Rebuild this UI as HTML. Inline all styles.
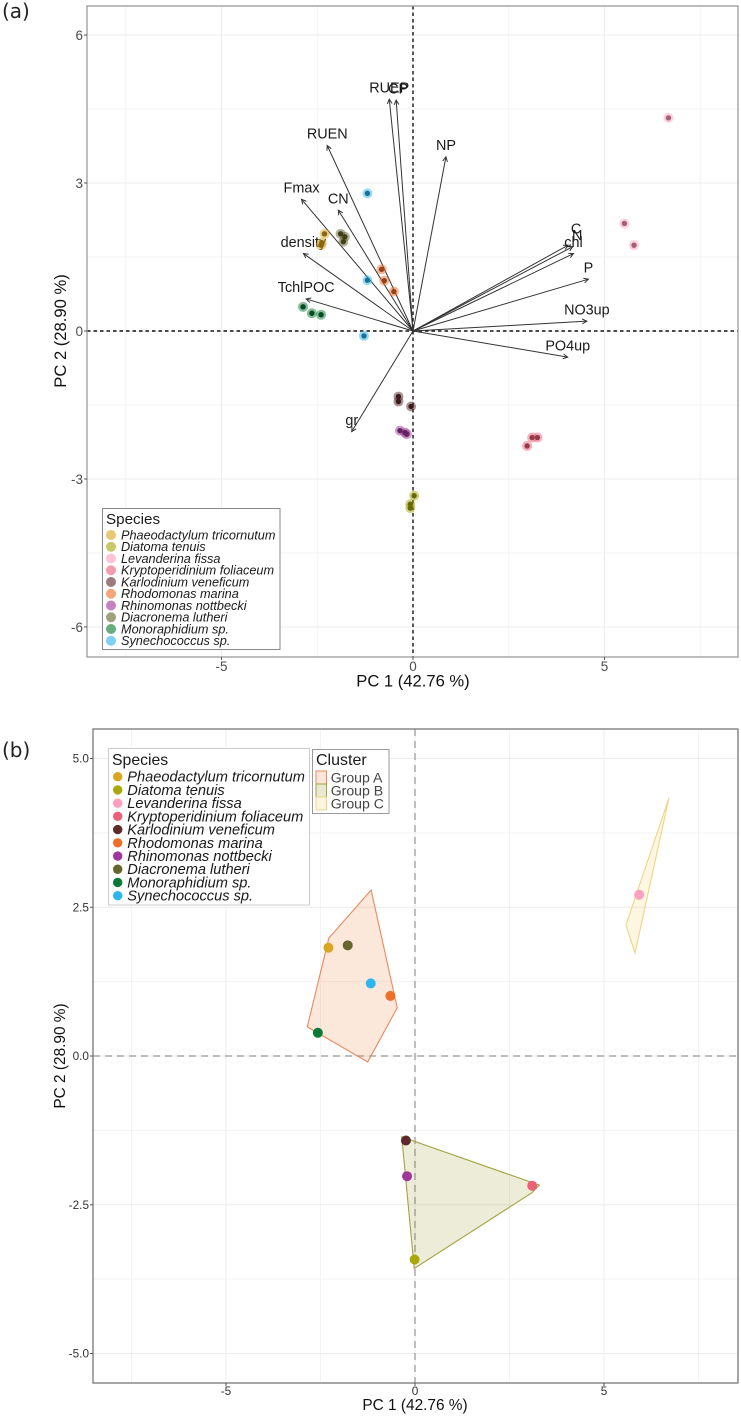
<!DOCTYPE html>
<html lang="en">
<head>
<meta charset="utf-8">
<title>PCA biplot of phytoplankton species</title>
<style>
html,body{margin:0;padding:0;background:#fff;}
body{width:741px;height:1416px;overflow:hidden;}
svg{display:block;font-family:"Liberation Sans",sans-serif;filter:blur(0.35px);}
</style>
</head>
<body>
<svg id="figure" xmlns="http://www.w3.org/2000/svg" width="741" height="1416" viewBox="0 0 741 1416">
  <text x="2" y="18" font-family="'DejaVu Sans',sans-serif" font-size="20" fill="#222">(a)</text>
  <text x="2" y="757" font-family="'DejaVu Sans',sans-serif" font-size="20" fill="#222">(b)</text>
  <g id="panelA"></g>
  <g id="panelB"></g>
</svg>
<script>
// ---------- shared categories ----------
const speciesNames = ["Phaeodactylum tricornutum","Diatoma tenuis","Levanderina fissa","Kryptoperidinium foliaceum","Karlodinium veneficum","Rhodomonas marina","Rhinomonas nottbecki","Diacronema lutheri","Monoraphidium sp.","Synechococcus sp."];
const speciesColors = ["#DAA520","#A8A80C","#FF9FBF","#EE6077","#5E2A2A","#EE7028","#A0359A","#66662E","#0B7A36","#2FB5EE"];

// ---------- panel (a) data: replicates per species, same order as speciesNames ----------
const scoresAX = [[-2.31,-2.38,-2.40],[0.03,-0.07,-0.07],[6.67,5.52,5.77],[3.11,3.25,2.98],[-0.38,-0.38,-0.05],[-0.82,-0.75,-0.50],[-0.34,-0.21,-0.16],[-1.89,-1.78,-1.82],[-2.87,-2.64,-2.40],[-1.19,-1.19,-1.28]];
const scoresAY = [[1.97,1.79,1.74],[-3.34,-3.51,-3.59],[4.32,2.18,1.74],[-2.16,-2.16,-2.33],[-1.33,-1.43,-1.53],[1.25,1.02,0.80],[-2.02,-2.06,-2.09],[1.97,1.91,1.81],[0.49,0.36,0.33],[2.79,1.03,-0.10]];
const loadingNames = ["RUEP","CP","RUEN","Fmax","CN","density","TchlPOC","NP","C","N","chl","P","NO3up","PO4up","gr"];
const loadingX = [-0.62,-0.44,-2.24,-2.91,-1.95,-2.86,-2.79,0.86,4.05,4.17,4.19,4.58,4.54,4.04,-1.60];
const loadingY = [4.70,4.68,3.76,2.67,2.45,1.57,0.65,3.53,1.74,1.71,1.57,1.05,0.20,-0.53,-2.04];
const xTicksA = [-5,0,5];
const xMinorA = [-7.5,-2.5,2.5,7.5];
const yTicksA = [-6,-3,0,3,6];
const yMinorA = [-4.5,-1.5,1.5,4.5];

// ---------- panel (b) data ----------
const centroidX = [-2.29,-0.01,5.93,3.10,-0.24,-0.65,-0.21,-1.78,-2.57,-1.17];
const centroidY = [1.82,-3.42,2.71,-2.18,-1.42,1.01,-2.02,1.86,0.39,1.22];
const clusterNames = ["Group A","Group B","Group C"];
const clusterFill = ["#F08040","#8F8F20","#F5D060"];
const clusterStroke = ["#E88A5C","#A3A340","#EFD488"];
const hullAX = [-1.16,-2.28,-2.85,-1.25,-0.47];
const hullAY = [2.79,1.98,0.49,-0.10,0.81];
const hullBX = [-0.35,3.29,3.09,-0.02];
const hullBY = [-1.36,-2.17,-2.30,-3.57];
const hullCX = [6.72,5.58,5.82];
const hullCY = [4.34,2.20,1.73];
const xTicksB = [-5,0,5];
const xMinorB = [-7.5,-2.5,2.5,7.5];
const yTicksB = [-5,-2.5,0,2.5,5];
const yMinorB = [-3.75,-1.25,1.25,3.75];
const yTickLabelsB = ["-5.0","-2.5","0.0","2.5","5.0"];

// ---------- axis functions ----------
const xA = v => 413 + 38.3 * v;
const yA = v => 331 - 49.33 * v;
const xB = v => 415 + 37.8 * v;
const yB = v => 1056 - 59.5 * v;

const NS = "http://www.w3.org/2000/svg";
function add(parent, tag, attrs, text) {
  const el = document.createElementNS(NS, tag);
  for (const k in attrs) el.setAttribute(k, attrs[k]);
  if (text !== undefined) el.textContent = text;
  parent.appendChild(el);
  return el;
}
function darken(hex, f) {
  const n = parseInt(hex.slice(1), 16);
  const c = [(n >> 16) & 255, (n >> 8) & 255, n & 255].map(v => Math.round(v * f));
  return "rgb(" + c.join(",") + ")";
}

const panelA = document.getElementById("panelA");
const panelB = document.getElementById("panelB");

function drawFrame(g, box, sx, sy, xMajor, xMinor, yMajor, yMinor, major, minor) {
  xMinor.forEach(v => {
    const el = add(g, "line", {x1: sx(v), x2: sx(v), y1: box.t, y2: box.b, stroke: minor, "stroke-width": 1});
    
    
  });
  yMinor.forEach(v => {
    const el = add(g, "line", {x1: box.l, x2: box.r, y1: sy(v), y2: sy(v), stroke: minor, "stroke-width": 1});
    
    
  });
  xMajor.forEach(v => {
    const el = add(g, "line", {x1: sx(v), x2: sx(v), y1: box.t, y2: box.b, stroke: major, "stroke-width": 1});
    
    
  });
  yMajor.forEach(v => {
    const el = add(g, "line", {x1: box.l, x2: box.r, y1: sy(v), y2: sy(v), stroke: major, "stroke-width": 1});
    
    
  });
}
function drawBorderAndTicks(g, box, sx, sy, xMajor, yMajor, xLabels, yLabels, fs, color, xLabelY, yLabelX, borderColor) {
  const border = add(g, "rect", {x: box.l, y: box.t, width: box.r - box.l, height: box.b - box.t, fill: "none", stroke: borderColor, "stroke-width": 1.3});
  
  
  xMajor.forEach((v, i) => {
    const t = add(g, "line", {x1: sx(v), x2: sx(v), y1: box.b, y2: box.b + 3, stroke: "#555", "stroke-width": 1});
    
    
    const l = add(g, "text", {x: sx(v), y: xLabelY, "text-anchor": "middle", "font-size": fs, fill: color}, xLabels[i]);
    
    
  });
  yMajor.forEach((v, i) => {
    const t = add(g, "line", {x1: box.l - 3, x2: box.l, y1: sy(v), y2: sy(v), stroke: "#555", "stroke-width": 1});
    
    
    const l = add(g, "text", {x: yLabelX, y: sy(v) + fs * 0.36, "text-anchor": "end", "font-size": fs, fill: color}, yLabels[i]);
    
    
  });
}

// ========== PANEL A ==========
const boxA = {l: 87, r: 738, t: 6, b: 657};
drawFrame(panelA, boxA, xA, yA, xTicksA, xMinorA, yTicksA, yMinorA, "#ececec", "#f3f3f3");

const zeroHA = add(panelA, "line", {x1: boxA.l, x2: boxA.r, y1: yA(0), y2: yA(0), stroke: "#111", "stroke-width": 1.4, "stroke-dasharray": "3.5 3"});


const zeroVA = add(panelA, "line", {x1: xA(0), x2: xA(0), y1: boxA.t, y2: boxA.b, stroke: "#111", "stroke-width": 1.4, "stroke-dasharray": "3.5 3"});



loadingNames.forEach((name, i) => {
  const x0 = xA(0), y0 = yA(0), x1 = xA(loadingX[i]), y1 = yA(loadingY[i]);
  const a = Math.atan2(y1 - y0, x1 - x0), h = 5.2, w = 0.48;
  const shaft = add(panelA, "line", {x1: x0, y1: y0, x2: x1, y2: y1, stroke: "#333", "stroke-width": 1});
  
  
  const d = "M" + (x1 - h * Math.cos(a - w)) + " " + (y1 - h * Math.sin(a - w)) + "L" + x1 + " " + y1 + "L" + (x1 - h * Math.cos(a + w)) + " " + (y1 - h * Math.sin(a + w));
  const head = add(panelA, "path", {d: d, fill: "none", stroke: "#333", "stroke-width": 1});
  
  
});
loadingNames.forEach((name, i) => {
  let nudgeX = 0, nudgeY = 0;
  if (name === "C") { nudgeX = 8; nudgeY = -5; }
  if (name === "N") { nudgeX = 4.5; }
  if (name === "CP") { nudgeX = 2; }
  const lab = add(panelA, "text", {x: xA(loadingX[i]) + nudgeX, y: yA(loadingY[i]) - 12 + nudgeY + 5.2, "text-anchor": "middle", "font-size": 14.4, fill: "#1a1a1a"}, name);
  
  
});

scoresAX.forEach((xs, s) => {
  xs.forEach((xv, r) => {
    const halo = add(panelA, "circle", {cx: xA(xv), cy: yA(scoresAY[s][r]), r: 5, fill: speciesColors[s], "fill-opacity": 0.5});
    
    
  });
});
scoresAX.forEach((xs, s) => {
  xs.forEach((xv, r) => {
    const dot = add(panelA, "circle", {cx: xA(xv), cy: yA(scoresAY[s][r]), r: 2.7, fill: darken(speciesColors[s], 0.62)});
    
    
  });
});

drawBorderAndTicks(panelA, boxA, xA, yA, xTicksA, yTicksA, xTicksA.map(String), yTicksA.map(String), 13.5, "#4d4d4d", 671, 83, "#9a9a9a");

const xTitleA = add(panelA, "text", {x: 413, y: 686.5, "text-anchor": "middle", "font-size": 16.6, fill: "#111"}, "PC 1 (42.76 %)");


const yTitleA = add(panelA, "text", {x: 0, y: 0, transform: "translate(66 331) rotate(-90)", "text-anchor": "middle", "font-size": 16.6, fill: "#111"}, "PC 2 (28.90 %)");



const legendA = add(panelA, "g", {});


const legendBoxA = add(legendA, "rect", {x: 102.5, y: 508.5, width: 177.5, height: 141, fill: "#fff", stroke: "#888", "stroke-width": 1});


const legendTitleA = add(legendA, "text", {x: 106, y: 524, "font-size": 15.2, fill: "#1a1a1a"}, "Species");


speciesNames.forEach((name, i) => {
  const cy = 535 + i * 11.75;
  const key = add(legendA, "circle", {cx: 111, cy: cy, r: 5, fill: speciesColors[i], "fill-opacity": 0.62});
  
  
  const txt = add(legendA, "text", {x: 121, y: cy + 4.4, "font-size": 12.7, "font-style": "italic", fill: "#1a1a1a"}, name);
  
  
});

// ========== PANEL B ==========
const boxB = {l: 93, r: 738, t: 729, b: 1383};
drawFrame(panelB, boxB, xB, yB, xTicksB, xMinorB, yTicksB, yMinorB, "#ececec", "#f3f3f3");

const zeroHB = add(panelB, "line", {x1: boxB.l, x2: boxB.r, y1: yB(0), y2: yB(0), stroke: "#a8a8a8", "stroke-width": 1.5, "stroke-dasharray": "7 5"});


const zeroVB = add(panelB, "line", {x1: xB(0), x2: xB(0), y1: boxB.t, y2: boxB.b, stroke: "#a8a8a8", "stroke-width": 1.5, "stroke-dasharray": "7 5"});



[[hullAX, hullAY], [hullBX, hullBY], [hullCX, hullCY]].forEach((h, c) => {
  const pts = h[0].map((v, i) => xB(v) + "," + yB(h[1][i])).join(" ");
  const poly = add(panelB, "polygon", {points: pts, fill: clusterFill[c], "fill-opacity": c === 1 ? 0.17 : 0.19, stroke: clusterStroke[c], "stroke-width": 1.1});
  
  
});

centroidX.forEach((v, i) => {
  const dot = add(panelB, "circle", {cx: xB(v), cy: yB(centroidY[i]), r: 5, fill: speciesColors[i]});
  
  
});

drawBorderAndTicks(panelB, boxB, xB, yB, xTicksB, yTicksB, xTicksB.map(String), yTickLabelsB, 11.8, "#333", 1395, 89, "#777");

const xTitleB = add(panelB, "text", {x: 415, y: 1410, "text-anchor": "middle", "font-size": 15.4, fill: "#111"}, "PC 1 (42.76 %)");


const yTitleB = add(panelB, "text", {x: 0, y: 0, transform: "translate(65 1056) rotate(-90)", "text-anchor": "middle", "font-size": 15.4, fill: "#111"}, "PC 2 (28.90 %)");



const legendB = add(panelB, "g", {});


const legendBoxB = add(legendB, "rect", {x: 108.5, y: 748.5, width: 201, height: 156.5, fill: "#fff", stroke: "#ccc", "stroke-width": 1});


const legendTitleB = add(legendB, "text", {x: 112, y: 765, "font-size": 15.8, fill: "#1a1a1a"}, "Species");


speciesNames.forEach((name, i) => {
  const cy = 776.7 + i * 13.22;
  const key = add(legendB, "circle", {cx: 117.7, cy: cy, r: 4.7, fill: speciesColors[i]});
  
  
  const txt = add(legendB, "text", {x: 127.3, y: cy + 5, "font-size": 14.6, "font-style": "italic", fill: "#1a1a1a"}, name);
  
  
});

const legendC = add(panelB, "g", {});


const legendBoxC = add(legendC, "rect", {x: 312.5, y: 749.5, width: 76.5, height: 64, fill: "#fff", stroke: "#999", "stroke-width": 1});


const legendTitleC = add(legendC, "text", {x: 316, y: 765, "font-size": 16, fill: "#1a1a1a"}, "Cluster");


clusterNames.forEach((name, i) => {
  const top = 771 + i * 13;
  const key = add(legendC, "rect", {x: 316, y: top, width: 10.5, height: 13, fill: clusterFill[i], "fill-opacity": 0.2, stroke: clusterStroke[i], "stroke-width": 1});
  
  
  const txt = add(legendC, "text", {x: 330.7, y: top + 11.3, "font-size": 14.1, fill: "#444"}, name);
  
  
});
</script>
</body>
</html>
